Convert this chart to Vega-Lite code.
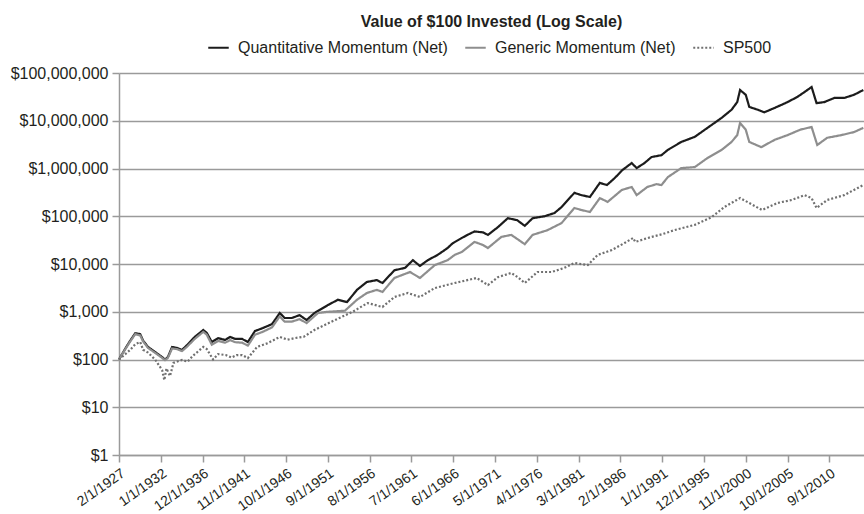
{
  "$schema": "https://vega.github.io/schema/vega-lite/v6.json",
  "width": 745,
  "height": 382,
  "autosize": "none",
  "padding": {"left": 119, "top": 73, "right": 0, "bottom": 59},
  "background": "white",
  "title": {"text": "Value of $100 Invested (Log Scale)", "fontSize": 16, "fontWeight": "bold", "font": "Liberation Sans", "color": "#231f20", "anchor": "middle", "frame": "group", "offset": 6},
  "config": {
    "view": {"stroke": null},
    "axis": {"labelFont": "Liberation Sans", "labelFontSize": 16, "labelColor": "#231f20", "domainColor": "#9a9a9a", "tickColor": "#9a9a9a", "gridColor": "#9a9a9a", "tickSize": 7, "domainWidth": 1.5, "tickWidth": 1.5, "gridWidth": 1.3},
    "legend": {"labelFont": "Liberation Sans", "labelFontSize": 16, "labelColor": "#231f20", "symbolType": "stroke", "symbolSize": 420, "symbolStrokeWidth": 2.5, "labelOffset": 8, "columnPadding": 12, "labelLimit": 400}
  },
  "data": {"values": [
    {"date": "1927-02-01", "series": "Quantitative Momentum (Net)", "value": 100},
    {"date": "1927-11-01", "series": "Quantitative Momentum (Net)", "value": 170},
    {"date": "1928-06-01", "series": "Quantitative Momentum (Net)", "value": 250},
    {"date": "1929-01-01", "series": "Quantitative Momentum (Net)", "value": 355},
    {"date": "1929-08-01", "series": "Quantitative Momentum (Net)", "value": 340},
    {"date": "1929-12-01", "series": "Quantitative Momentum (Net)", "value": 250},
    {"date": "1930-07-01", "series": "Quantitative Momentum (Net)", "value": 183},
    {"date": "1931-05-01", "series": "Quantitative Momentum (Net)", "value": 144},
    {"date": "1932-03-01", "series": "Quantitative Momentum (Net)", "value": 112},
    {"date": "1932-07-01", "series": "Quantitative Momentum (Net)", "value": 100},
    {"date": "1932-11-01", "series": "Quantitative Momentum (Net)", "value": 112},
    {"date": "1933-05-01", "series": "Quantitative Momentum (Net)", "value": 183},
    {"date": "1933-12-01", "series": "Quantitative Momentum (Net)", "value": 175},
    {"date": "1934-07-01", "series": "Quantitative Momentum (Net)", "value": 158},
    {"date": "1935-02-01", "series": "Quantitative Momentum (Net)", "value": 200},
    {"date": "1936-01-01", "series": "Quantitative Momentum (Net)", "value": 297},
    {"date": "1937-01-01", "series": "Quantitative Momentum (Net)", "value": 415},
    {"date": "1937-06-01", "series": "Quantitative Momentum (Net)", "value": 360},
    {"date": "1938-01-01", "series": "Quantitative Momentum (Net)", "value": 232},
    {"date": "1938-10-01", "series": "Quantitative Momentum (Net)", "value": 280},
    {"date": "1939-08-01", "series": "Quantitative Momentum (Net)", "value": 257},
    {"date": "1940-03-01", "series": "Quantitative Momentum (Net)", "value": 297},
    {"date": "1940-10-01", "series": "Quantitative Momentum (Net)", "value": 270},
    {"date": "1941-08-01", "series": "Quantitative Momentum (Net)", "value": 270},
    {"date": "1942-04-01", "series": "Quantitative Momentum (Net)", "value": 232},
    {"date": "1943-02-01", "series": "Quantitative Momentum (Net)", "value": 395},
    {"date": "1944-01-01", "series": "Quantitative Momentum (Net)", "value": 455},
    {"date": "1945-02-01", "series": "Quantitative Momentum (Net)", "value": 550},
    {"date": "1946-01-01", "series": "Quantitative Momentum (Net)", "value": 940},
    {"date": "1946-08-01", "series": "Quantitative Momentum (Net)", "value": 740},
    {"date": "1947-06-01", "series": "Quantitative Momentum (Net)", "value": 740},
    {"date": "1948-05-01", "series": "Quantitative Momentum (Net)", "value": 850},
    {"date": "1949-03-01", "series": "Quantitative Momentum (Net)", "value": 670},
    {"date": "1950-02-01", "series": "Quantitative Momentum (Net)", "value": 940},
    {"date": "1951-09-01", "series": "Quantitative Momentum (Net)", "value": 1380},
    {"date": "1952-11-01", "series": "Quantitative Momentum (Net)", "value": 1780},
    {"date": "1953-12-01", "series": "Quantitative Momentum (Net)", "value": 1590},
    {"date": "1955-02-01", "series": "Quantitative Momentum (Net)", "value": 2870},
    {"date": "1956-04-01", "series": "Quantitative Momentum (Net)", "value": 4200},
    {"date": "1957-06-01", "series": "Quantitative Momentum (Net)", "value": 4600},
    {"date": "1958-02-01", "series": "Quantitative Momentum (Net)", "value": 4000},
    {"date": "1959-07-01", "series": "Quantitative Momentum (Net)", "value": 7400},
    {"date": "1960-10-01", "series": "Quantitative Momentum (Net)", "value": 8300},
    {"date": "1961-09-01", "series": "Quantitative Momentum (Net)", "value": 12000},
    {"date": "1962-07-01", "series": "Quantitative Momentum (Net)", "value": 9100},
    {"date": "1963-06-01", "series": "Quantitative Momentum (Net)", "value": 12000},
    {"date": "1964-08-01", "series": "Quantitative Momentum (Net)", "value": 15500},
    {"date": "1965-10-01", "series": "Quantitative Momentum (Net)", "value": 21600},
    {"date": "1966-05-01", "series": "Quantitative Momentum (Net)", "value": 27000},
    {"date": "1967-06-01", "series": "Quantitative Momentum (Net)", "value": 35000},
    {"date": "1968-02-01", "series": "Quantitative Momentum (Net)", "value": 40700},
    {"date": "1968-12-01", "series": "Quantitative Momentum (Net)", "value": 48000},
    {"date": "1969-12-01", "series": "Quantitative Momentum (Net)", "value": 46000},
    {"date": "1970-07-01", "series": "Quantitative Momentum (Net)", "value": 40700},
    {"date": "1971-09-01", "series": "Quantitative Momentum (Net)", "value": 59000},
    {"date": "1972-11-01", "series": "Quantitative Momentum (Net)", "value": 91000},
    {"date": "1973-12-01", "series": "Quantitative Momentum (Net)", "value": 83000},
    {"date": "1974-11-01", "series": "Quantitative Momentum (Net)", "value": 63000},
    {"date": "1975-10-01", "series": "Quantitative Momentum (Net)", "value": 91000},
    {"date": "1977-03-01", "series": "Quantitative Momentum (Net)", "value": 100000},
    {"date": "1978-05-01", "series": "Quantitative Momentum (Net)", "value": 117000},
    {"date": "1979-03-01", "series": "Quantitative Momentum (Net)", "value": 156000},
    {"date": "1980-09-01", "series": "Quantitative Momentum (Net)", "value": 309000},
    {"date": "1981-07-01", "series": "Quantitative Momentum (Net)", "value": 277000},
    {"date": "1982-07-01", "series": "Quantitative Momentum (Net)", "value": 253000},
    {"date": "1983-09-01", "series": "Quantitative Momentum (Net)", "value": 500000},
    {"date": "1984-07-01", "series": "Quantitative Momentum (Net)", "value": 450000},
    {"date": "1985-06-01", "series": "Quantitative Momentum (Net)", "value": 630000},
    {"date": "1986-05-01", "series": "Quantitative Momentum (Net)", "value": 930000},
    {"date": "1987-06-01", "series": "Quantitative Momentum (Net)", "value": 1300000},
    {"date": "1988-01-01", "series": "Quantitative Momentum (Net)", "value": 1020000},
    {"date": "1988-12-01", "series": "Quantitative Momentum (Net)", "value": 1300000},
    {"date": "1989-10-01", "series": "Quantitative Momentum (Net)", "value": 1740000},
    {"date": "1990-12-01", "series": "Quantitative Momentum (Net)", "value": 1900000},
    {"date": "1991-09-01", "series": "Quantitative Momentum (Net)", "value": 2450000},
    {"date": "1993-04-01", "series": "Quantitative Momentum (Net)", "value": 3600000},
    {"date": "1994-11-01", "series": "Quantitative Momentum (Net)", "value": 4600000},
    {"date": "1996-05-01", "series": "Quantitative Momentum (Net)", "value": 7100000},
    {"date": "1998-01-01", "series": "Quantitative Momentum (Net)", "value": 11500000},
    {"date": "1999-03-01", "series": "Quantitative Momentum (Net)", "value": 17000000},
    {"date": "1999-11-01", "series": "Quantitative Momentum (Net)", "value": 24600000},
    {"date": "2000-03-01", "series": "Quantitative Momentum (Net)", "value": 44000000},
    {"date": "2000-11-01", "series": "Quantitative Momentum (Net)", "value": 35000000},
    {"date": "2001-04-01", "series": "Quantitative Momentum (Net)", "value": 19500000},
    {"date": "2002-04-01", "series": "Quantitative Momentum (Net)", "value": 17000000},
    {"date": "2003-01-01", "series": "Quantitative Momentum (Net)", "value": 15000000},
    {"date": "2004-04-01", "series": "Quantitative Momentum (Net)", "value": 18600000},
    {"date": "2005-10-01", "series": "Quantitative Momentum (Net)", "value": 24600000},
    {"date": "2006-12-01", "series": "Quantitative Momentum (Net)", "value": 31600000},
    {"date": "2008-02-01", "series": "Quantitative Momentum (Net)", "value": 44000000},
    {"date": "2008-08-01", "series": "Quantitative Momentum (Net)", "value": 51000000},
    {"date": "2009-03-01", "series": "Quantitative Momentum (Net)", "value": 23400000},
    {"date": "2010-02-01", "series": "Quantitative Momentum (Net)", "value": 24600000},
    {"date": "2011-04-01", "series": "Quantitative Momentum (Net)", "value": 30000000},
    {"date": "2012-06-01", "series": "Quantitative Momentum (Net)", "value": 30000000},
    {"date": "2013-08-01", "series": "Quantitative Momentum (Net)", "value": 35000000},
    {"date": "2014-09-01", "series": "Quantitative Momentum (Net)", "value": 44000000},

    {"date": "1927-02-01", "series": "Generic Momentum (Net)", "value": 100},
    {"date": "1927-11-01", "series": "Generic Momentum (Net)", "value": 165},
    {"date": "1928-06-01", "series": "Generic Momentum (Net)", "value": 240},
    {"date": "1929-01-01", "series": "Generic Momentum (Net)", "value": 340},
    {"date": "1929-08-01", "series": "Generic Momentum (Net)", "value": 320},
    {"date": "1929-12-01", "series": "Generic Momentum (Net)", "value": 240},
    {"date": "1930-07-01", "series": "Generic Momentum (Net)", "value": 175},
    {"date": "1931-05-01", "series": "Generic Momentum (Net)", "value": 138},
    {"date": "1932-03-01", "series": "Generic Momentum (Net)", "value": 108},
    {"date": "1932-07-01", "series": "Generic Momentum (Net)", "value": 97},
    {"date": "1932-11-01", "series": "Generic Momentum (Net)", "value": 108},
    {"date": "1933-05-01", "series": "Generic Momentum (Net)", "value": 170},
    {"date": "1933-12-01", "series": "Generic Momentum (Net)", "value": 165},
    {"date": "1934-07-01", "series": "Generic Momentum (Net)", "value": 150},
    {"date": "1935-02-01", "series": "Generic Momentum (Net)", "value": 185},
    {"date": "1936-01-01", "series": "Generic Momentum (Net)", "value": 270},
    {"date": "1937-01-01", "series": "Generic Momentum (Net)", "value": 380},
    {"date": "1937-06-01", "series": "Generic Momentum (Net)", "value": 330},
    {"date": "1938-01-01", "series": "Generic Momentum (Net)", "value": 205},
    {"date": "1938-10-01", "series": "Generic Momentum (Net)", "value": 245},
    {"date": "1939-08-01", "series": "Generic Momentum (Net)", "value": 225},
    {"date": "1940-03-01", "series": "Generic Momentum (Net)", "value": 255},
    {"date": "1940-10-01", "series": "Generic Momentum (Net)", "value": 230},
    {"date": "1941-08-01", "series": "Generic Momentum (Net)", "value": 225},
    {"date": "1942-04-01", "series": "Generic Momentum (Net)", "value": 195},
    {"date": "1943-02-01", "series": "Generic Momentum (Net)", "value": 330},
    {"date": "1944-01-01", "series": "Generic Momentum (Net)", "value": 380},
    {"date": "1945-02-01", "series": "Generic Momentum (Net)", "value": 470},
    {"date": "1946-01-01", "series": "Generic Momentum (Net)", "value": 800},
    {"date": "1946-08-01", "series": "Generic Momentum (Net)", "value": 620},
    {"date": "1947-06-01", "series": "Generic Momentum (Net)", "value": 620},
    {"date": "1948-05-01", "series": "Generic Momentum (Net)", "value": 700},
    {"date": "1949-03-01", "series": "Generic Momentum (Net)", "value": 580},
    {"date": "1950-07-01", "series": "Generic Momentum (Net)", "value": 940},
    {"date": "1951-09-01", "series": "Generic Momentum (Net)", "value": 1000},
    {"date": "1953-09-01", "series": "Generic Momentum (Net)", "value": 1050},
    {"date": "1955-02-01", "series": "Generic Momentum (Net)", "value": 1780},
    {"date": "1956-04-01", "series": "Generic Momentum (Net)", "value": 2470},
    {"date": "1957-06-01", "series": "Generic Momentum (Net)", "value": 2870},
    {"date": "1958-02-01", "series": "Generic Momentum (Net)", "value": 2600},
    {"date": "1959-07-01", "series": "Generic Momentum (Net)", "value": 5100},
    {"date": "1961-05-01", "series": "Generic Momentum (Net)", "value": 6800},
    {"date": "1962-07-01", "series": "Generic Momentum (Net)", "value": 5100},
    {"date": "1964-04-01", "series": "Generic Momentum (Net)", "value": 9500},
    {"date": "1965-10-01", "series": "Generic Momentum (Net)", "value": 12000},
    {"date": "1966-08-01", "series": "Generic Momentum (Net)", "value": 15500},
    {"date": "1967-06-01", "series": "Generic Momentum (Net)", "value": 17800},
    {"date": "1968-12-01", "series": "Generic Momentum (Net)", "value": 29000},
    {"date": "1969-12-01", "series": "Generic Momentum (Net)", "value": 25000},
    {"date": "1970-07-01", "series": "Generic Momentum (Net)", "value": 21600},
    {"date": "1972-02-01", "series": "Generic Momentum (Net)", "value": 37000},
    {"date": "1973-04-01", "series": "Generic Momentum (Net)", "value": 40700},
    {"date": "1974-11-01", "series": "Generic Momentum (Net)", "value": 26000},
    {"date": "1975-10-01", "series": "Generic Momentum (Net)", "value": 40700},
    {"date": "1977-07-01", "series": "Generic Momentum (Net)", "value": 51000},
    {"date": "1979-03-01", "series": "Generic Momentum (Net)", "value": 72000},
    {"date": "1980-09-01", "series": "Generic Momentum (Net)", "value": 149000},
    {"date": "1981-07-01", "series": "Generic Momentum (Net)", "value": 135000},
    {"date": "1982-07-01", "series": "Generic Momentum (Net)", "value": 123000},
    {"date": "1983-09-01", "series": "Generic Momentum (Net)", "value": 240000},
    {"date": "1984-08-01", "series": "Generic Momentum (Net)", "value": 200000},
    {"date": "1986-04-01", "series": "Generic Momentum (Net)", "value": 355000},
    {"date": "1987-06-01", "series": "Generic Momentum (Net)", "value": 410000},
    {"date": "1988-01-01", "series": "Generic Momentum (Net)", "value": 277000},
    {"date": "1989-04-01", "series": "Generic Momentum (Net)", "value": 410000},
    {"date": "1990-05-01", "series": "Generic Momentum (Net)", "value": 470000},
    {"date": "1990-12-01", "series": "Generic Momentum (Net)", "value": 450000},
    {"date": "1991-09-01", "series": "Generic Momentum (Net)", "value": 660000},
    {"date": "1993-04-01", "series": "Generic Momentum (Net)", "value": 1020000},
    {"date": "1994-11-01", "series": "Generic Momentum (Net)", "value": 1070000},
    {"date": "1996-05-01", "series": "Generic Momentum (Net)", "value": 1660000},
    {"date": "1998-01-01", "series": "Generic Momentum (Net)", "value": 2450000},
    {"date": "1999-03-01", "series": "Generic Momentum (Net)", "value": 3600000},
    {"date": "1999-11-01", "series": "Generic Momentum (Net)", "value": 5000000},
    {"date": "2000-03-01", "series": "Generic Momentum (Net)", "value": 9000000},
    {"date": "2000-11-01", "series": "Generic Momentum (Net)", "value": 6500000},
    {"date": "2001-04-01", "series": "Generic Momentum (Net)", "value": 3600000},
    {"date": "2002-09-01", "series": "Generic Momentum (Net)", "value": 2800000},
    {"date": "2004-04-01", "series": "Generic Momentum (Net)", "value": 4000000},
    {"date": "2005-10-01", "series": "Generic Momentum (Net)", "value": 5000000},
    {"date": "2007-04-01", "series": "Generic Momentum (Net)", "value": 6500000},
    {"date": "2008-08-01", "series": "Generic Momentum (Net)", "value": 7400000},
    {"date": "2009-04-01", "series": "Generic Momentum (Net)", "value": 3100000},
    {"date": "2010-06-01", "series": "Generic Momentum (Net)", "value": 4400000},
    {"date": "2012-02-01", "series": "Generic Momentum (Net)", "value": 5000000},
    {"date": "2013-08-01", "series": "Generic Momentum (Net)", "value": 5800000},
    {"date": "2014-09-01", "series": "Generic Momentum (Net)", "value": 7100000},

    {"date": "1927-02-01", "series": "SP500", "value": 100},
    {"date": "1927-11-01", "series": "SP500", "value": 130},
    {"date": "1928-06-01", "series": "SP500", "value": 160},
    {"date": "1929-01-01", "series": "SP500", "value": 210},
    {"date": "1929-08-01", "series": "SP500", "value": 232},
    {"date": "1929-12-01", "series": "SP500", "value": 160},
    {"date": "1930-07-01", "series": "SP500", "value": 140},
    {"date": "1931-05-01", "series": "SP500", "value": 100},
    {"date": "1932-03-01", "series": "SP500", "value": 60},
    {"date": "1932-06-01", "series": "SP500", "value": 37},
    {"date": "1932-09-01", "series": "SP500", "value": 65},
    {"date": "1933-02-01", "series": "SP500", "value": 45},
    {"date": "1933-07-01", "series": "SP500", "value": 85},
    {"date": "1934-07-01", "series": "SP500", "value": 98},
    {"date": "1935-03-01", "series": "SP500", "value": 90},
    {"date": "1935-10-01", "series": "SP500", "value": 118},
    {"date": "1937-01-01", "series": "SP500", "value": 183},
    {"date": "1937-06-01", "series": "SP500", "value": 165},
    {"date": "1938-03-01", "series": "SP500", "value": 100},
    {"date": "1938-10-01", "series": "SP500", "value": 130},
    {"date": "1939-09-01", "series": "SP500", "value": 124},
    {"date": "1940-05-01", "series": "SP500", "value": 110},
    {"date": "1940-12-01", "series": "SP500", "value": 124},
    {"date": "1941-08-01", "series": "SP500", "value": 124},
    {"date": "1942-04-01", "series": "SP500", "value": 107},
    {"date": "1943-05-01", "series": "SP500", "value": 183},
    {"date": "1944-08-01", "series": "SP500", "value": 220},
    {"date": "1946-01-01", "series": "SP500", "value": 297},
    {"date": "1946-12-01", "series": "SP500", "value": 260},
    {"date": "1947-10-01", "series": "SP500", "value": 280},
    {"date": "1948-11-01", "series": "SP500", "value": 300},
    {"date": "1950-02-01", "series": "SP500", "value": 415},
    {"date": "1952-07-01", "series": "SP500", "value": 670},
    {"date": "1954-08-01", "series": "SP500", "value": 1000},
    {"date": "1956-05-01", "series": "SP500", "value": 1520},
    {"date": "1958-02-01", "series": "SP500", "value": 1260},
    {"date": "1959-07-01", "series": "SP500", "value": 2040},
    {"date": "1961-02-01", "series": "SP500", "value": 2470},
    {"date": "1962-07-01", "series": "SP500", "value": 2040},
    {"date": "1964-04-01", "series": "SP500", "value": 3140},
    {"date": "1966-08-01", "series": "SP500", "value": 4000},
    {"date": "1968-02-01", "series": "SP500", "value": 4600},
    {"date": "1969-03-01", "series": "SP500", "value": 5100},
    {"date": "1970-07-01", "series": "SP500", "value": 3630},
    {"date": "1971-09-01", "series": "SP500", "value": 5300},
    {"date": "1973-04-01", "series": "SP500", "value": 6500},
    {"date": "1974-01-01", "series": "SP500", "value": 5300},
    {"date": "1974-11-01", "series": "SP500", "value": 4000},
    {"date": "1976-05-01", "series": "SP500", "value": 6800},
    {"date": "1978-01-01", "series": "SP500", "value": 6800},
    {"date": "1979-07-01", "series": "SP500", "value": 8300},
    {"date": "1980-09-01", "series": "SP500", "value": 10500},
    {"date": "1982-04-01", "series": "SP500", "value": 9500},
    {"date": "1983-06-01", "series": "SP500", "value": 15500},
    {"date": "1985-02-01", "series": "SP500", "value": 19600},
    {"date": "1986-08-01", "series": "SP500", "value": 27600},
    {"date": "1987-08-01", "series": "SP500", "value": 35000},
    {"date": "1987-11-01", "series": "SP500", "value": 29000},
    {"date": "1989-10-01", "series": "SP500", "value": 37000},
    {"date": "1991-01-01", "series": "SP500", "value": 42000},
    {"date": "1992-06-01", "series": "SP500", "value": 51000},
    {"date": "1994-11-01", "series": "SP500", "value": 66000},
    {"date": "1996-11-01", "series": "SP500", "value": 96000},
    {"date": "1998-05-01", "series": "SP500", "value": 156000},
    {"date": "2000-03-01", "series": "SP500", "value": 240000},
    {"date": "2001-01-01", "series": "SP500", "value": 200000},
    {"date": "2002-10-01", "series": "SP500", "value": 135000},
    {"date": "2004-08-01", "series": "SP500", "value": 190000},
    {"date": "2006-04-01", "series": "SP500", "value": 219000},
    {"date": "2007-10-01", "series": "SP500", "value": 277000},
    {"date": "2008-08-01", "series": "SP500", "value": 240000},
    {"date": "2009-03-01", "series": "SP500", "value": 149000},
    {"date": "2010-06-01", "series": "SP500", "value": 219000},
    {"date": "2012-06-01", "series": "SP500", "value": 277000},
    {"date": "2014-09-01", "series": "SP500", "value": 450000}
  ]},
  "mark": {"type": "line", "interpolate": "linear"},
  "encoding": {
    "x": {
      "field": "date", "type": "temporal",
      "scale": {"domain": [{"year": 1927, "month": 2, "date": 1}, {"year": 2014, "month": 10, "date": 1}]},
      "axis": {
        "title": null, "grid": false, "format": "%-m/%-d/%Y", "labelAngle": -35, "labelPadding": 4, "labelFontSize": 14, "labelOverlap": false, "labelBound": false, "labelFlush": false,
        "values": [
          {"year": 1927, "month": 2, "date": 1}, {"year": 1932, "month": 1, "date": 1}, {"year": 1936, "month": 12, "date": 1},
          {"year": 1941, "month": 11, "date": 1}, {"year": 1946, "month": 10, "date": 1}, {"year": 1951, "month": 9, "date": 1},
          {"year": 1956, "month": 8, "date": 1}, {"year": 1961, "month": 7, "date": 1}, {"year": 1966, "month": 6, "date": 1},
          {"year": 1971, "month": 5, "date": 1}, {"year": 1976, "month": 4, "date": 1}, {"year": 1981, "month": 3, "date": 1},
          {"year": 1986, "month": 2, "date": 1}, {"year": 1991, "month": 1, "date": 1}, {"year": 1995, "month": 12, "date": 1},
          {"year": 2000, "month": 11, "date": 1}, {"year": 2005, "month": 10, "date": 1}, {"year": 2010, "month": 9, "date": 1}
        ]
      }
    },
    "y": {
      "field": "value", "type": "quantitative",
      "scale": {"type": "log", "domain": [1, 100000000], "nice": false},
      "axis": {"title": null, "grid": true, "format": "$,.0f", "labelPadding": 4, "values": [1, 10, 100, 1000, 10000, 100000, 1000000, 10000000, 100000000]}
    },
    "color": {
      "field": "series", "type": "nominal",
      "scale": {"domain": ["Quantitative Momentum (Net)", "Generic Momentum (Net)", "SP500"], "range": ["#1c1c1c", "#8e8e8e", "#707070"]},
      "legend": {"title": null, "orient": "none", "direction": "horizontal", "legendX": 88, "legendY": -37}
    },
    "strokeDash": {
      "field": "series", "type": "nominal",
      "scale": {"domain": ["Quantitative Momentum (Net)", "Generic Momentum (Net)", "SP500"], "range": [[1, 0], [1, 0], [2, 2]]},
      "legend": {"title": null, "orient": "none", "direction": "horizontal", "legendX": 88, "legendY": -37}
    },
    "strokeWidth": {
      "field": "series", "type": "nominal",
      "scale": {"domain": ["Quantitative Momentum (Net)", "Generic Momentum (Net)", "SP500"], "range": [2.2, 2.2, 1.6]},
      "legend": null
    }
  }
}
